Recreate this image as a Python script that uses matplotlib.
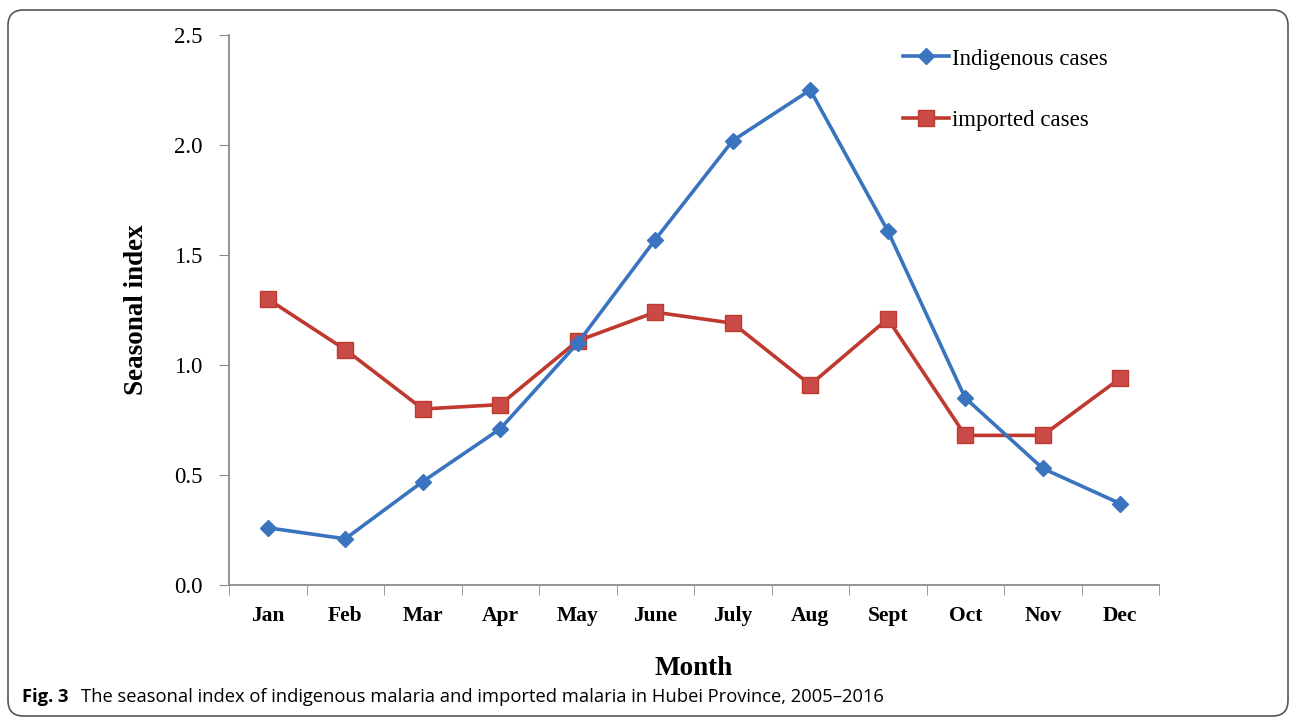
import matplotlib
matplotlib.use("Agg")
import matplotlib.pyplot as plt
from matplotlib.patches import FancyBboxPatch
import numpy as np

MONTHS = ["Jan", "Feb", "Mar", "Apr", "May", "June", "July", "Aug", "Sept", "Oct", "Nov", "Dec"]
INDIGENOUS = [0.26, 0.21, 0.47, 0.71, 1.10, 1.57, 2.02, 2.25, 1.61, 0.85, 0.53, 0.37]
IMPORTED = [1.30, 1.07, 0.80, 0.82, 1.11, 1.24, 1.19, 0.91, 1.21, 0.68, 0.68, 0.94]
Y_TICKS = [0.0, 0.5, 1.0, 1.5, 2.0, 2.5]

BLUE = "#3a74bf"
RED = "#c0392f"
RED_FACE = "#c94a46"
SPINE = "#8a8a8a"
SERIF = ["Liberation Serif", "DejaVu Serif"]

fig = plt.figure(figsize=(12.92, 7.18), dpi=100)
ax = fig.add_axes([229 / 1292, 1 - 585 / 718, (1159 - 229) / 1292, (585 - 35) / 718])

x = np.arange(len(MONTHS))
ax.plot(x, INDIGENOUS, color=BLUE, linewidth=2.6, marker="D", markersize=8,
        markerfacecolor=BLUE, markeredgecolor=BLUE, label="Indigenous cases", zorder=3)
ax.plot(x, IMPORTED, color=RED, linewidth=2.6, marker="s", markersize=11,
        markerfacecolor=RED_FACE, markeredgecolor=RED, label="imported cases", zorder=2)

ax.set_xlim(-0.5, len(MONTHS) - 0.5)
ax.set_ylim(0, 2.5)

# labels centred on categories, tick marks on category boundaries
ax.set_xticks(x)
ax.set_xticklabels(MONTHS, fontfamily=SERIF, fontweight="bold", fontsize=15.5)
ax.set_xticks(np.arange(-0.5, len(MONTHS), 1), minor=True)
ax.tick_params(axis="x", which="major", length=0, pad=15)
ax.tick_params(axis="x", which="minor", length=7, color=SPINE, direction="out")

ax.set_yticks(Y_TICKS)
ax.set_yticklabels([f"{v:.1f}" for v in Y_TICKS], fontfamily=SERIF, fontsize=16.5)
ax.tick_params(axis="y", length=7, color=SPINE, direction="out", pad=12)

for side in ("top", "right"):
    ax.spines[side].set_visible(False)
for side in ("left", "bottom"):
    ax.spines[side].set_color(SPINE)
    ax.spines[side].set_linewidth(1.3)

ax.set_ylabel("Seasonal index", fontfamily=SERIF, fontweight="bold", fontsize=19.5, labelpad=18)
ax.set_xlabel("Month", fontfamily=SERIF, fontweight="bold", fontsize=19.5, labelpad=22)

leg = ax.legend(loc="upper left", bbox_to_anchor=(0.703, 1.013), frameon=False,
                prop={"family": SERIF, "size": 16.5}, labelspacing=1.75,
                handlelength=2.0, handletextpad=0.1)

# caption
fig.text(22 / 1292, 1 - 697 / 718, "Fig. 3", fontfamily="Open Sans", fontweight="bold",
         fontsize=13.2, va="center", ha="left")
fig.text(81 / 1292, 1 - 697 / 718,
         "The seasonal index of indigenous malaria and imported malaria in Hubei Province, 2005\u20132016",
         fontfamily="Open Sans", fontsize=13.2, va="center", ha="left")

# rounded frame
frame = FancyBboxPatch((8 / 1292, 2 / 718), 1280 / 1292, 706 / 718,
                       boxstyle="round,pad=0,rounding_size=0.012",
                       transform=fig.transFigure, fill=False, edgecolor="#555555",
                       linewidth=1.2, mutation_aspect=1292 / 718)
fig.patches.append(frame)

fig.savefig("out.png", dpi=100)
